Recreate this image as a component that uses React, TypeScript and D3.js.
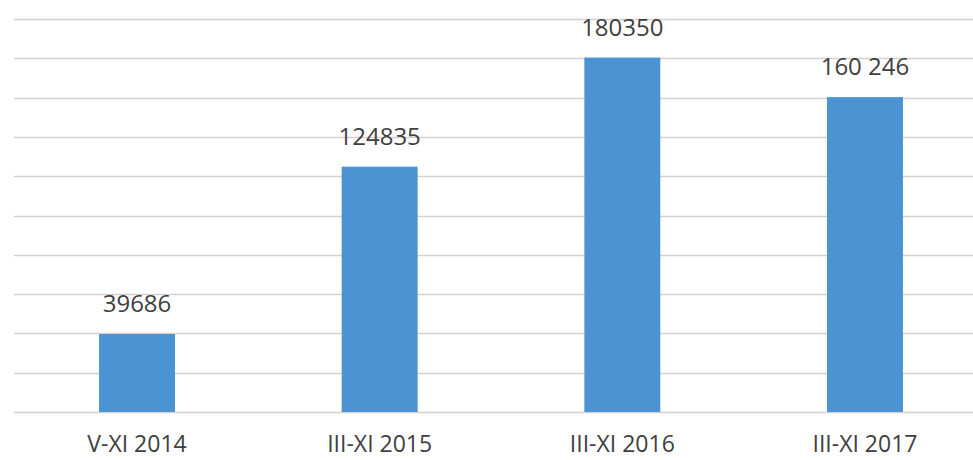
import React from "react";
import * as d3 from "d3";

const categories = ["V-XI 2014", "III-XI 2015", "III-XI 2016", "III-XI 2017"];
const values = [39686, 124835, 180350, 160246];
const valueLabels = ["39686", "124835", "180350", "160 246"];
const gridTicks = [0, 20000, 40000, 60000, 80000, 100000, 120000, 140000, 160000, 180000, 200000];

const W = 973;
const H = 460;

export default function App() {
  const x = d3
    .scaleBand<string>()
    .domain(categories)
    .range([15.7, 986.3])
    .paddingInner(0.687)
    .paddingOuter(0.3435);
  const y = d3.scaleLinear().domain([0, 200000]).range([412, 19]);
  const font = "'Open Sans', 'DejaVu Sans', sans-serif";

  return (
    <div style={{ position: "fixed", left: 0, top: 0 }}>
      <svg width={W} height={H} style={{ display: "block", background: "#fff" }}>
        {gridTicks.map((t) => (
          <line
            key={t}
            x1={14}
            x2={W}
            y1={Math.round(y(t)) + 0.5}
            y2={Math.round(y(t)) + 0.5}
            stroke="#d6cfcd"
            strokeWidth={1.5}
          />
        ))}
        {categories.map((c, i) => (
          <g key={c}>
            <rect
              x={x(c)}
              y={y(values[i])}
              width={x.bandwidth()}
              height={y(0) - y(values[i])}
              fill="#4b93d2"
            />
            <text
              x={(x(c) as number) + x.bandwidth() / 2}
              y={y(values[i]) - 22}
              textAnchor="middle"
              fontFamily={font}
              fontSize={24}
              fill="#404040"
            >
              {valueLabels[i]}
            </text>
            <text
              x={(x(c) as number) + x.bandwidth() / 2}
              y={452}
              textAnchor="middle"
              fontFamily={font}
              fontSize={23}
              fill="#404040"
            >
              {c}
            </text>
          </g>
        ))}
      </svg>
    </div>
  );
}
